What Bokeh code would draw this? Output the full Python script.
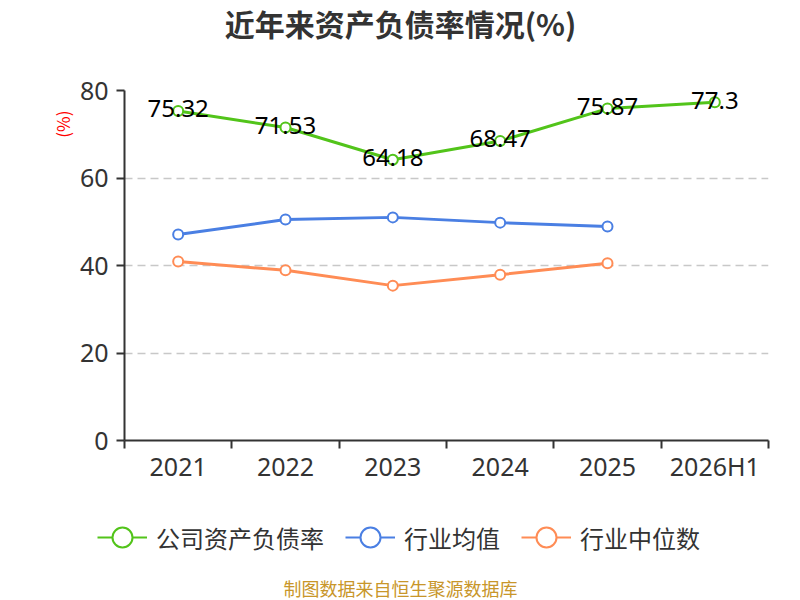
import math
from bokeh.plotting import figure
from bokeh.layouts import column, row
from bokeh.models import (ColumnDataSource, Range1d, FixedTicker, Title, Label, Legend, LegendItem)
from bokeh.core.properties import value
from bokeh.embed import file_html
from bokeh.resources import INLINE

# ---- data ----
categories = ["2021", "2022", "2023", "2024", "2025", "2026H1"]
company_ratio = [75.32, 71.53, 64.18, 68.47, 75.87, 77.3]
industry_mean = [47.1, 50.5, 51.0, 49.8, 48.9]
industry_median = [40.9, 38.9, 35.4, 37.9, 40.5]
y_ticks = [0, 20, 40, 60, 80]

title_text = "近年来资产负债率情况(%)"
unit_text = "(%)"
footer_text = "制图数据来自恒生聚源数据库"
series_names = ["公司资产负债率", "行业均值", "行业中位数"]

GREEN = "#52C41A"
BLUE = "#4A7FE3"
ORANGE = "#FF8C55"
TXT = "#333333"
NUM_FONT = "Noto Sans"
CJK_FONT = "Noto Sans CJK SC"
colors = [GREEN, BLUE, ORANGE]

n = len(categories)
xc = [i + 0.5 for i in range(n)]


def strip(h):
    f = figure(width=800, height=h, output_backend="svg", toolbar_location=None,
               x_range=Range1d(0, 1), y_range=Range1d(0, 1), x_axis_type=None, y_axis_type=None,
               min_border_left=0, min_border_right=0, min_border_top=0, min_border_bottom=0)
    f.outline_line_color = None
    f.grid.grid_line_color = None
    f.background_fill_color = "white"
    f.border_fill_color = "white"
    return f


# ---------------- title strip ----------------
t = strip(70)
t.add_layout(Label(x=400, y=48, x_units="screen", y_units="screen", text=title_text,
                   text_font=CJK_FONT, text_font_size="30px", text_font_style="bold",
                   text_color=TXT, text_align="center", text_baseline="middle"))

# ---------------- main chart ----------------
p = figure(width=800, height=420, output_backend="svg", toolbar_location=None,
           x_range=Range1d(0, n), y_range=Range1d(y_ticks[0], y_ticks[-1]),
           min_border_left=124, min_border_right=32, min_border_top=20, min_border_bottom=50)
p.outline_line_color = None
p.background_fill_color = "white"
p.border_fill_color = "white"

p.xaxis.ticker = FixedTicker(ticks=xc, minor_ticks=list(range(n + 1)))
p.xaxis.major_label_overrides = {x: c for x, c in zip(xc, categories)}
p.xaxis.major_tick_out = 0
p.xaxis.major_tick_in = 0
p.xaxis.minor_tick_out = 8
p.xaxis.minor_tick_in = 0
p.xaxis.minor_tick_line_color = TXT
p.xaxis.minor_tick_line_width = 2
p.xaxis.axis_line_color = TXT
p.xaxis.axis_line_width = 2
p.xaxis.major_label_text_font = NUM_FONT
p.xaxis.major_label_text_font_size = "25px"
p.xaxis.major_label_text_color = TXT
p.xaxis.major_label_standoff = 0

p.yaxis.ticker = FixedTicker(ticks=y_ticks)
p.yaxis.major_tick_out = 8
p.yaxis.major_tick_in = 0
p.yaxis.major_tick_line_color = TXT
p.yaxis.major_tick_line_width = 2
p.yaxis.minor_tick_line_color = None
p.yaxis.axis_line_color = TXT
p.yaxis.axis_line_width = 2
p.yaxis.major_label_text_font = NUM_FONT
p.yaxis.major_label_text_font_size = "25px"
p.yaxis.major_label_text_color = TXT
p.yaxis.major_label_standoff = 8

p.xgrid.grid_line_color = None
p.ygrid.ticker = FixedTicker(ticks=y_ticks[1:])
p.ygrid.grid_line_color = "#C8C8C8"
p.ygrid.grid_line_dash = "8 5"
p.ygrid.grid_line_width = 1.5

src_c = ColumnDataSource(dict(x=xc, y=company_ratio, t=[f"{v:g}" for v in company_ratio]))
src_m = ColumnDataSource(dict(x=xc[:len(industry_mean)], y=industry_mean))
src_d = ColumnDataSource(dict(x=xc[:len(industry_median)], y=industry_median))
sources = [src_c, src_m, src_d]

for src, col in zip(sources, colors):
    p.line("x", "y", source=src, line_color=col, line_width=3)
    p.scatter("x", "y", source=src, size=10, marker="circle", fill_color="white",
              line_color=col, line_width=2)

p.text("x", "y", text="t", source=src_c, text_font=value(NUM_FONT), text_font_size="24px",
       text_color="black", text_align="center", text_baseline="middle", y_offset=-2)

p.add_layout(Title(text=unit_text, align="right", text_font=CJK_FONT, text_font_size="17px",
                   text_font_style="normal", text_color="#FF0000", offset=20, standoff=4), "left")

# ---------------- legend + footer strip ----------------
q = strip(110)
items = []
for nm, col, src in zip(series_names, colors, sources):
    # same series, drawn in a strip whose ranges keep them out of view: only the legend shows
    ln = q.line("x", "y", source=src, line_color=col, line_width=2)
    sc = q.scatter("x", "y", source=src, size=10, marker="circle", fill_color="white",
                   line_color=col, line_width=2)
    items.append(LegendItem(label=nm, renderers=[ln, sc]))

legend = Legend(items=items, orientation="horizontal", location=(97, 38),
                border_line_color=None, background_fill_alpha=0, padding=0, margin=0,
                spacing=21, label_standoff=9, glyph_width=50, glyph_height=50,
                label_text_font=CJK_FONT, label_text_font_size="24px", label_text_color=TXT)
q.add_layout(legend)

q.add_layout(Label(x=400, y=13, x_units="screen", y_units="screen", text=footer_text,
                   text_font=CJK_FONT, text_font_size="18px", text_color="#C8962A",
                   text_align="center", text_baseline="middle"))

layout = column(row(t), p, row(q), spacing=0)
open("out.html", "w").write(file_html(layout, INLINE))
